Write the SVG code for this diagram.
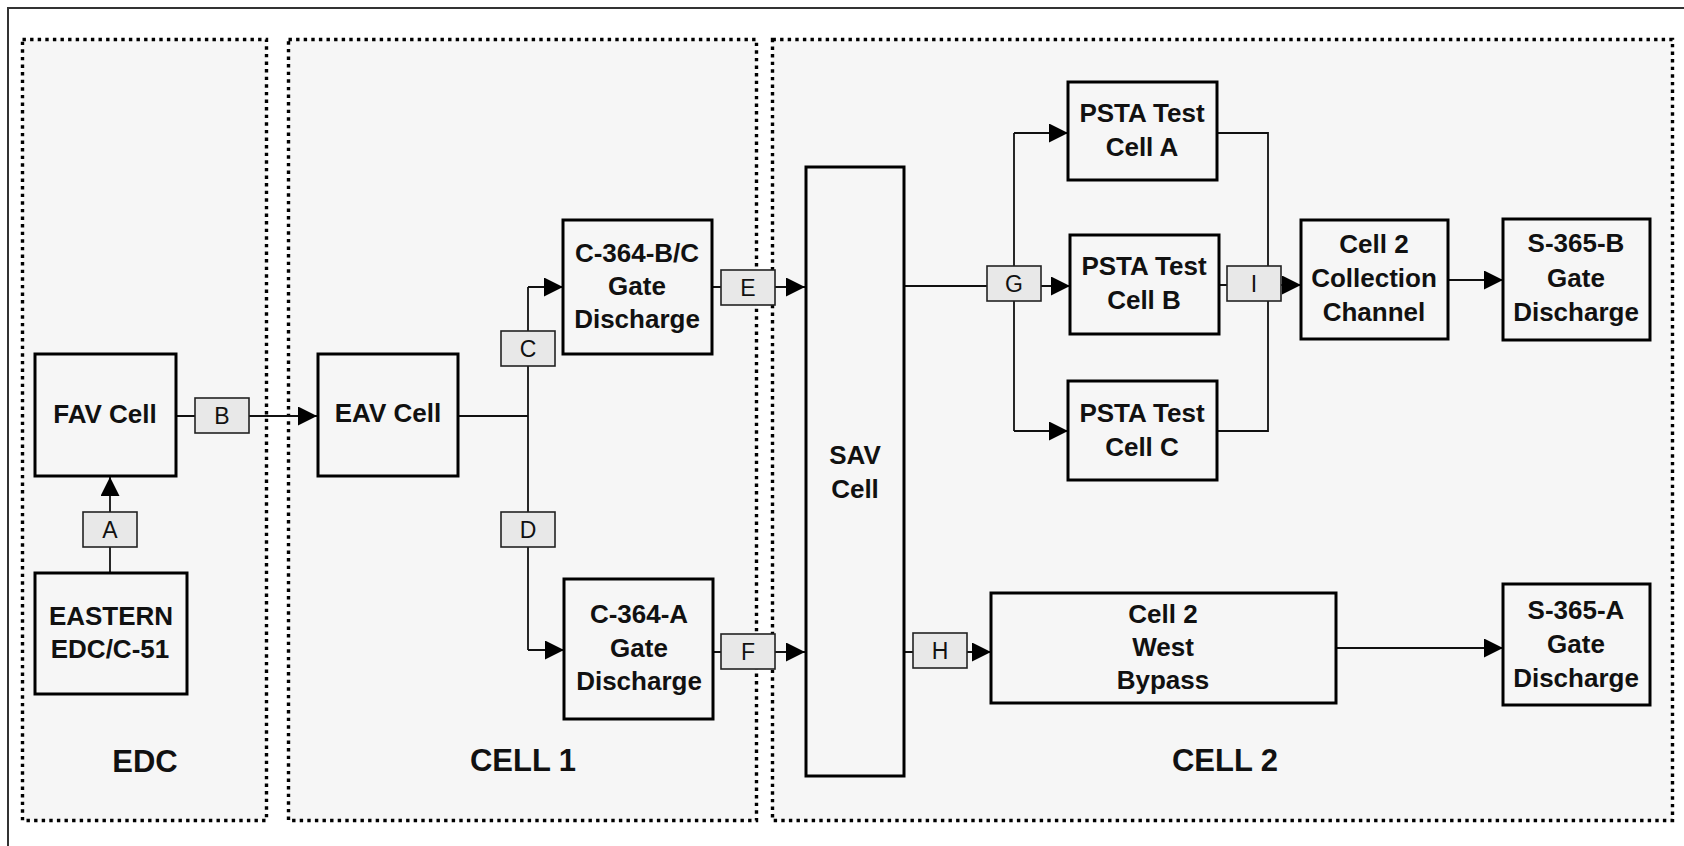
<svg xmlns="http://www.w3.org/2000/svg" width="1684" height="846" viewBox="0 0 1684 846">
<style>
.area{fill:#f6f6f6;stroke:#000;stroke-width:3.4;stroke-dasharray:3.4 4.2}
.node{fill:#f6f6f6;stroke:#000;stroke-width:3}
.lab{fill:#e8e8e8;stroke:#222;stroke-width:1.6}
.t{font-family:"Liberation Sans",Arial,sans-serif;font-weight:bold;font-size:26px;fill:#111;text-anchor:middle}
.lt{font-family:"Liberation Sans",Arial,sans-serif;font-size:23px;fill:#111;text-anchor:middle}
.sec{font-family:"Liberation Sans",Arial,sans-serif;font-weight:bold;font-size:31px;fill:#111;text-anchor:middle}
.c{fill:none;stroke:#111;stroke-width:1.8}
.ca{fill:none;stroke:#111;stroke-width:1.8;marker-end:url(#ah)}
</style>
<defs>
<marker id="ah" markerUnits="userSpaceOnUse" viewBox="0 0 19 19" markerWidth="19" markerHeight="19" refX="19" refY="9.5" orient="auto">
<path d="M0,0 L19,9.5 L0,19 z" fill="#000"/>
</marker>
</defs>
<rect x="0" y="0" width="1684" height="846" fill="#fff"/>
<rect x="8" y="8" width="1720" height="900" fill="none" stroke="#333" stroke-width="2"/>
<g id="areas">
<rect class="area" x="22.5" y="39.5" width="244" height="781"/>
<rect class="area" x="288.5" y="39.5" width="468" height="781"/>
<rect class="area" x="772.5" y="39.5" width="900" height="781"/>
<text class="sec" x="145" y="772">EDC</text>
<text class="sec" x="523" y="771">CELL 1</text>
<text class="sec" x="1225" y="771">CELL 2</text>
</g>
<g id="connectors">
<path class="ca" d="M110,573 L110,477"/>
<path class="ca" d="M176,416 L317,416"/>
<path class="c" d="M458,416 L528,416"/>
<path class="c" d="M528,287 L528,650"/>
<path class="ca" d="M528,287 L563,287"/>
<path class="ca" d="M528,650 L564,650"/>
<path class="ca" d="M712,287 L805,287"/>
<path class="ca" d="M713,652 L805,652"/>
<path class="ca" d="M904,286 L1070,286"/>
<path class="c" d="M1014,133 L1014,431"/>
<path class="ca" d="M1014,133 L1068,133"/>
<path class="ca" d="M1014,431 L1068,431"/>
<path class="c" d="M1217,133 L1268,133 L1268,431 L1217,431"/>
<path class="ca" d="M1219,285 L1301,285"/>
<path class="ca" d="M1448,280 L1503,280"/>
<path class="ca" d="M904,652 L991,652"/>
<path class="ca" d="M1336,648 L1503,648"/>
</g>
<g id="labels">
<g id="lab-A"><rect class="lab" x="83" y="512" width="54" height="35"/><text class="lt" x="110" y="538">A</text></g>
<g id="lab-B"><rect class="lab" x="195" y="398" width="54" height="35"/><text class="lt" x="222" y="424">B</text></g>
<g id="lab-C"><rect class="lab" x="501" y="331" width="54" height="35"/><text class="lt" x="528" y="357">C</text></g>
<g id="lab-D"><rect class="lab" x="501" y="512" width="54" height="35"/><text class="lt" x="528" y="538">D</text></g>
<g id="lab-E"><rect class="lab" x="721" y="270" width="54" height="35"/><text class="lt" x="748" y="296">E</text></g>
<g id="lab-F"><rect class="lab" x="721" y="634" width="54" height="35"/><text class="lt" x="748" y="660">F</text></g>
<g id="lab-G"><rect class="lab" x="987" y="266" width="54" height="35"/><text class="lt" x="1014" y="292">G</text></g>
<g id="lab-H"><rect class="lab" x="913" y="633" width="54" height="35"/><text class="lt" x="940" y="659">H</text></g>
<g id="lab-I"><rect class="lab" x="1227" y="266" width="54" height="35"/><text class="lt" x="1254" y="292">I</text></g>
</g>
<g id="fav"><rect class="node" x="35" y="354" width="141" height="122"/><text class="t" x="105" y="423">FAV Cell</text></g>
<g id="eastern"><rect class="node" x="35" y="573" width="152" height="121"/><text class="t" x="111" y="625">EASTERN</text><text class="t" x="110" y="658">EDC/C-51</text></g>
<g id="eav"><rect class="node" x="318" y="354" width="140" height="122"/><text class="t" x="388" y="422">EAV Cell</text></g>
<g id="c364bc"><rect class="node" x="563" y="220" width="149" height="134"/><text class="t" x="637" y="262">C-364-B/C</text><text class="t" x="637" y="295">Gate</text><text class="t" x="637" y="328">Discharge</text></g>
<g id="c364a"><rect class="node" x="564" y="579" width="149" height="140"/><text class="t" x="639" y="623">C-364-A</text><text class="t" x="639" y="657">Gate</text><text class="t" x="639" y="690">Discharge</text></g>
<g id="sav"><rect class="node" x="806" y="167" width="98" height="609"/><text class="t" x="855" y="464">SAV</text><text class="t" x="855" y="498">Cell</text></g>
<g id="psta-a"><rect class="node" x="1068" y="82" width="149" height="98"/><text class="t" x="1142" y="122">PSTA Test</text><text class="t" x="1142" y="156">Cell A</text></g>
<g id="psta-b"><rect class="node" x="1070" y="235" width="149" height="99"/><text class="t" x="1144" y="275">PSTA Test</text><text class="t" x="1144" y="309">Cell B</text></g>
<g id="psta-c"><rect class="node" x="1068" y="381" width="149" height="99"/><text class="t" x="1142" y="422">PSTA Test</text><text class="t" x="1142" y="456">Cell C</text></g>
<g id="collection"><rect class="node" x="1301" y="220" width="147" height="119"/><text class="t" x="1374" y="253">Cell 2</text><text class="t" x="1374" y="287">Collection</text><text class="t" x="1374" y="321">Channel</text></g>
<g id="s365b"><rect class="node" x="1503" y="219" width="147" height="121"/><text class="t" x="1576" y="252">S-365-B</text><text class="t" x="1576" y="287">Gate</text><text class="t" x="1576" y="321">Discharge</text></g>
<g id="bypass"><rect class="node" x="991" y="593" width="345" height="110"/><text class="t" x="1163" y="623">Cell 2</text><text class="t" x="1163" y="656">West</text><text class="t" x="1163" y="689">Bypass</text></g>
<g id="s365a"><rect class="node" x="1503" y="584" width="147" height="121"/><text class="t" x="1576" y="619">S-365-A</text><text class="t" x="1576" y="653">Gate</text><text class="t" x="1576" y="687">Discharge</text></g>
</svg>
